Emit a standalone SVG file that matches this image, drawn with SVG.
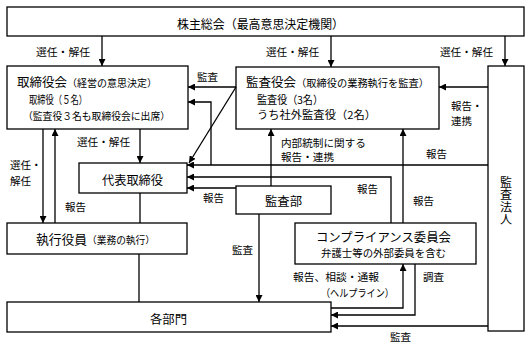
<svg xmlns="http://www.w3.org/2000/svg" width="532" height="348" viewBox="0 0 532 348">
<style>
.box{fill:#fff;stroke:#000;stroke-width:1.3}
.ln{fill:none;stroke:#000;stroke-width:1.3}
.ar{marker-end:url(#ah)}
text{font-family:"Noto Sans CJK JP","Noto Sans",sans-serif;fill:#000}
.s10{font-size:10.5px}
.s11{font-size:11px}
.s12{font-size:12.3px}
</style>
<defs>
<marker id="ah" viewBox="0 0 8 8" refX="8" refY="4" markerWidth="7" markerHeight="7" markerUnits="userSpaceOnUse" orient="auto"><path d="M0,0 L8,4 L0,8 z" fill="#000"/></marker>
</defs>
<rect width="532" height="348" fill="#fff"/>

<g id="shareholders">
<rect class="box" x="7" y="7" width="517" height="29"/>
<text class="s12" x="177" y="28.6" textLength="167" lengthAdjust="spacingAndGlyphs">株主総会（最高意思決定機関）</text>
</g>

<g id="board">
<rect class="box" x="7" y="66" width="181" height="63"/>
<text x="17" y="86.7"><tspan font-size="12.5" textLength="50" lengthAdjust="spacingAndGlyphs">取締役会</tspan><tspan font-size="10" textLength="90" lengthAdjust="spacingAndGlyphs">（経営の意思決定）</tspan></text>
<text class="s11" x="29" y="104.2" textLength="58" lengthAdjust="spacingAndGlyphs">取締役（５名）</text>
<text x="23" y="119.8" font-size="10" textLength="147" lengthAdjust="spacingAndGlyphs">（監査役３名も取締役会に出席）</text>
</g>

<g id="auditboard">
<rect class="box" x="236" y="67" width="203" height="62"/>
<text x="246" y="86.7"><tspan font-size="12.5" textLength="50" lengthAdjust="spacingAndGlyphs">監査役会</tspan><tspan font-size="10.2" textLength="133" lengthAdjust="spacingAndGlyphs">（取締役の業務執行を監査）</tspan></text>
<text class="s11" x="257" y="104.2" textLength="66" lengthAdjust="spacingAndGlyphs">監査役（3名）</text>
<text class="s11" x="257" y="119.2" textLength="119" lengthAdjust="spacingAndGlyphs">うち社外監査役（2名）</text>
</g>

<g id="auditfirm">
<rect class="box" x="488" y="66" width="36" height="265"/>
<text font-size="12" x="506 506 506 506" y="186.6 199 211.5 223.8" text-anchor="middle">監査法人</text>
</g>

<g id="ceo">
<rect class="box" x="79" y="163" width="108" height="30"/>
<text class="s12" x="102" y="184.7" textLength="61" lengthAdjust="spacingAndGlyphs">代表取締役</text>
</g>

<g id="internalaudit">
<rect class="box" x="236" y="186" width="95" height="28"/>
<text class="s12" x="265" y="205.7" textLength="37" lengthAdjust="spacingAndGlyphs">監査部</text>
</g>

<g id="compliance">
<rect class="box" x="295" y="223" width="181" height="41"/>
<text class="s12" x="316" y="241.7" textLength="135" lengthAdjust="spacingAndGlyphs">コンプライアンス委員会</text>
<text x="321" y="257" font-size="10.4" textLength="125" lengthAdjust="spacingAndGlyphs">弁護士等の外部委員を含む</text>
</g>

<g id="officers">
<rect class="box" x="7" y="223" width="180" height="31"/>
<text x="36" y="243.8"><tspan font-size="12.7" textLength="51" lengthAdjust="spacingAndGlyphs">執行役員</tspan><tspan font-size="9.7" textLength="68" lengthAdjust="spacingAndGlyphs">（業務の執行）</tspan></text>
</g>

<g id="departments">
<rect class="box" x="7" y="302" width="324" height="30"/>
<text class="s12" x="150" y="323.7" textLength="37" lengthAdjust="spacingAndGlyphs">各部門</text>
</g>

<g id="connectors">
<path class="ln ar" d="M102,36 V66"/>
<path class="ln ar" d="M331,36 V67"/>
<path class="ln ar" d="M505,36 V66"/>
<path class="ln ar" d="M236,87 H188"/>
<path class="ln ar" d="M236,87 L189,163"/>
<path class="ln ar" d="M488,165 H187"/>
<path class="ln ar" d="M211,165 V102 H188"/>
<path class="ln ar" d="M391,223 V177 H187"/>
<path class="ln ar" d="M236,188 H187"/>
<path class="ln ar" d="M271,186 V129"/>
<path class="ln ar" d="M403,223 V129"/>
<path class="ln ar" d="M488,87 H439"/>
<path class="ln ar" d="M140,129 V163"/>
<path class="ln ar" d="M43,129 V223"/>
<path class="ln ar" d="M55,223 V129"/>
<path class="ln" d="M140,193 V223"/>
<path class="ln" d="M139,254 V302"/>
<path class="ln ar" d="M259,214 V302"/>
<path class="ln ar" d="M331,308 H403 V264"/>
<path class="ln ar" d="M415,264 V315 H331"/>
<path class="ln ar" d="M488,326 H331"/>

<text class="s10" x="36" y="56" textLength="54" lengthAdjust="spacingAndGlyphs">選任・解任</text>
<text class="s10" x="266" y="56" textLength="53" lengthAdjust="spacingAndGlyphs">選任・解任</text>
<text class="s10" x="440" y="56" textLength="53" lengthAdjust="spacingAndGlyphs">選任・解任</text>
<text class="s10" x="197" y="81">監査</text>
<text class="s10" x="451" y="110">報告・</text>
<text class="s10" x="451" y="125">連携</text>
<text class="s10" x="281" y="147" textLength="85" lengthAdjust="spacingAndGlyphs">内部統制に関する</text>
<text class="s10" x="281" y="161" textLength="53" lengthAdjust="spacingAndGlyphs">報告・連携</text>
<text class="s10" x="426" y="158">報告</text>
<text class="s10" x="357" y="193">報告</text>
<text class="s10" x="413" y="205">報告</text>
<text class="s10" x="77" y="146" textLength="53" lengthAdjust="spacingAndGlyphs">選任・解任</text>
<text class="s10" x="10" y="169">選任・</text>
<text class="s10" x="10" y="185">解任</text>
<text class="s10" x="203" y="202">報告</text>
<text class="s10" x="65" y="211">報告</text>
<text class="s10" x="232" y="254">監査</text>
<text class="s10" x="293" y="281" textLength="86" lengthAdjust="spacingAndGlyphs">報告、相談・通報</text>
<text class="s10" x="321" y="297" textLength="73" lengthAdjust="spacingAndGlyphs">（ヘルプライン）</text>
<text class="s10" x="423" y="281">調査</text>
<text class="s10" x="390" y="341">監査</text>
</g>
</svg>
